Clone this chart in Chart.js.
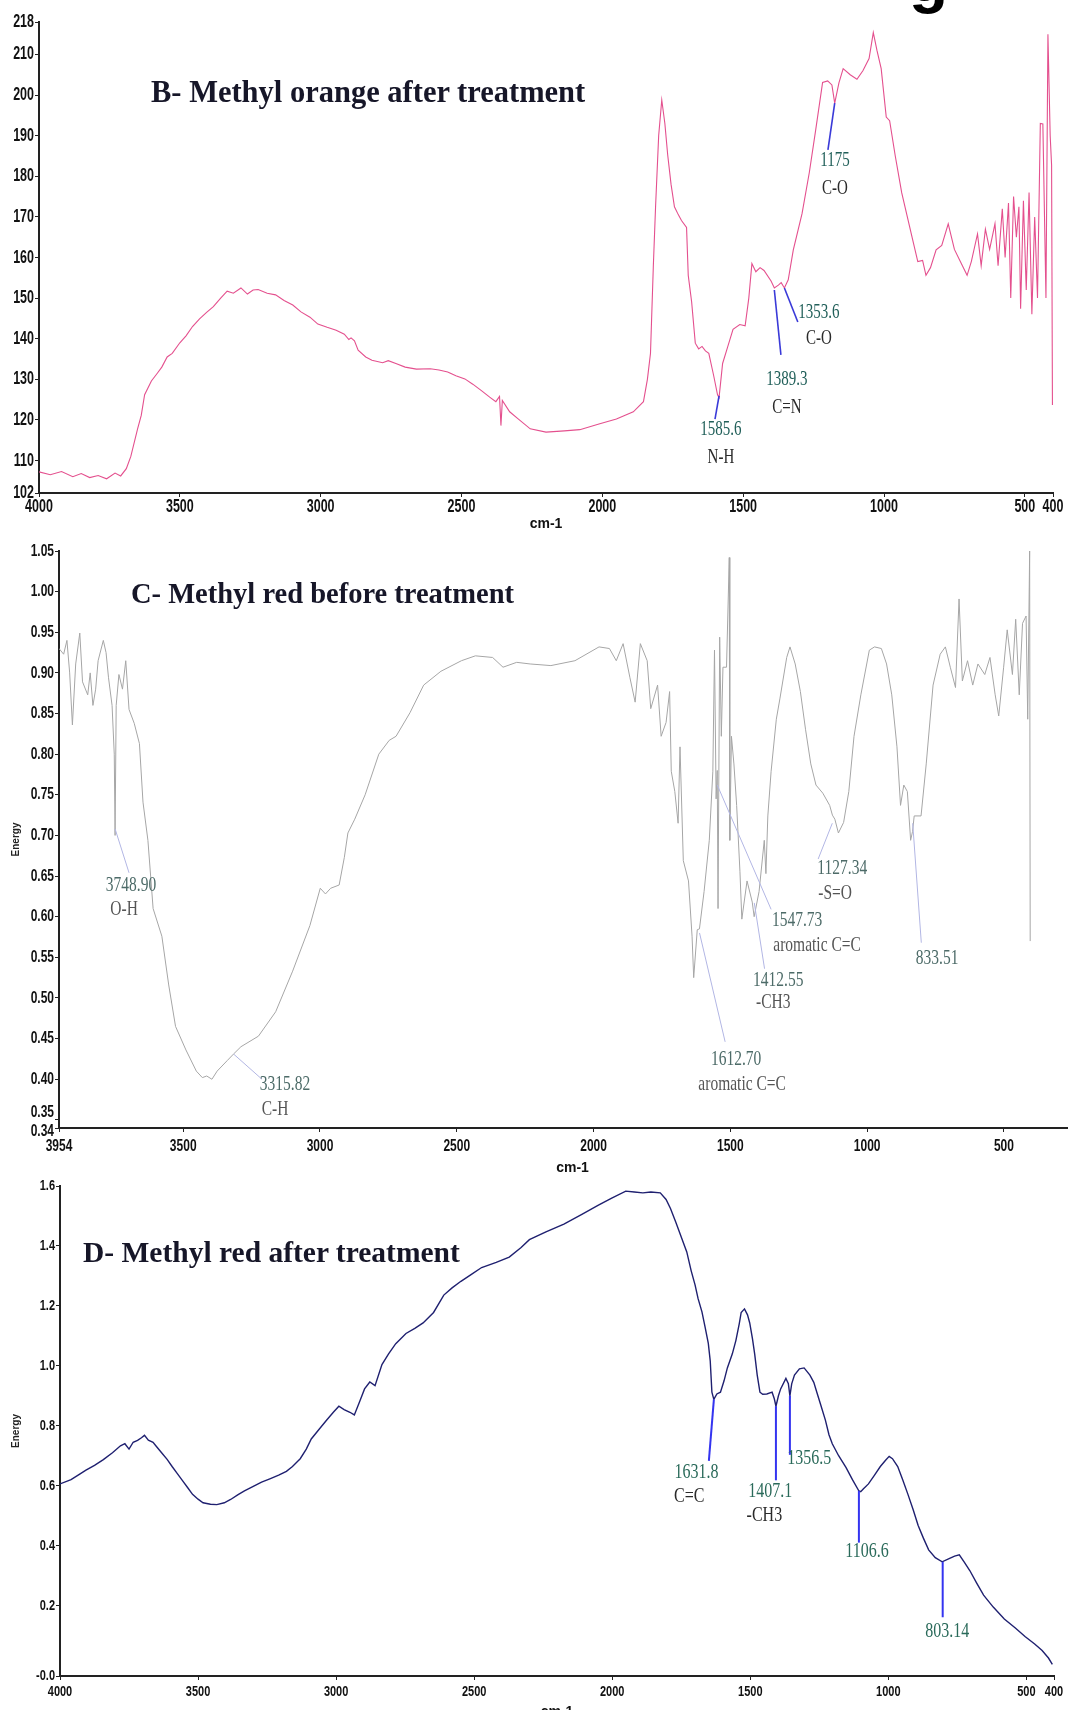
<!DOCTYPE html>
<html>
<head>
<meta charset="utf-8">
<script src="https://cdn.jsdelivr.net/npm/chart.js@4.4.0/dist/chart.umd.min.js"></script>
<style>
  html, body { margin: 0; padding: 0; background: #fff; overflow: hidden; width: 1068px; height: 1710px; }
  canvas { position: absolute; left: 0; }
  .title { position: absolute; font-family: "Liberation Serif", "Times New Roman", serif; font-weight: bold; color: #161628; white-space: nowrap; line-height: 1; }
</style>
</head>
<body>
<div class="title" style="left:909px;top:-53px;font-family:'Liberation Sans',sans-serif;font-size:64px;line-height:64px;color:#000">g</div>
<canvas id="chartB" style="top:0" width="1068" height="540"></canvas>
<canvas id="chartC" style="top:535px" width="1092" height="645"></canvas>
<canvas id="chartD" style="top:1175px" width="1068" height="560"></canvas>
<div class="title" style="left:151px;top:77px;font-size:30.5px">B- Methyl orange after treatment</div>
<div class="title" style="left:131px;top:580px;font-size:28.5px">C- Methyl red before treatment</div>
<div class="title" style="left:83px;top:1238px;font-size:29.5px">D- Methyl red after treatment</div>

<script>
// B - methyl orange after treatment (wavenumber cm-1 / signal)
const orangeAfterWn = [
  4000,3960,3920,3880,3850,3820,3790,3760,3730,3710,
  3690,3674,3650,3637,3625,3601,3580,3564,3545,3527,
  3500,3478,3455,3430,3405,3381,3355,3332,3310,3283,
  3260,3240,3222,3190,3160,3130,3099,3070,3038,3010,
  2977,2945,2916,2900,2892,2880,2867,2840,2818,2780,
  2760,2733,2700,2660,2611,2580,2549,2520,2488,2460,
  2427,2400,2378,2365,2360,2355,2329,2300,2256,2200,
  2135,2080,2012,1950,1890,1854,1840,1829,1819,1811,
  1800,1789,1778,1768,1756,1744,1730,1719,1701,1695,
  1683,1670,1658,1646,1634,1622,1605,1591,1585.6,1573,
  1555,1536,1512,1493,1480,1469,1455,1440,1426,1401,
  1389.3,1375,1365,1353.6,1340,1322,1291,1265,1243,1218,
  1200,1185,1175,1160,1145,1120,1096,1075,1053,1038,
  1025,1010,992,980,960,937,900,880,863,851,
  835,815,795,772,750,729,705,690,668,655,
  640,625,606,595,580,570,558,550,540,530,
  521,515,505,495,485,475,465,455,445,436,
  425,418,410,405,402
];
const orangeAfterVal = [
  107.2,106.5,107.3,106.0,106.8,105.8,106.3,105.5,106.9,106.2,
  108.0,111.0,117.8,121.1,126.2,129.6,131.5,133.0,135.5,136.4,
  139.0,140.7,143.0,144.9,146.5,147.9,150.0,151.7,151.2,152.5,
  151.0,152.0,152.1,151.2,150.8,149.4,148.3,146.6,145.3,143.6,
  142.8,142.1,141.1,139.8,140.2,139.5,137.2,135.5,134.7,134.1,
  134.6,133.9,133.0,132.5,132.6,132.3,131.8,130.9,130.1,128.8,
  127.1,125.6,124.5,125.8,118.6,124.8,122.0,120.3,117.8,117.0,
  117.3,117.6,119.0,120.2,122.0,124.5,130.0,136.4,157.7,172.5,
  190.0,198.8,193.0,185.3,178.0,172.5,170.5,169.1,167.4,155.6,
  149.1,138.9,137.5,138.1,137.0,136.4,131.0,126.2,125.5,133.9,
  138.0,142.3,143.5,143.2,150.0,158.5,156.5,157.5,156.8,154.2,
  152.5,153.2,153.8,152.5,154.5,161.9,170.8,181.0,191.2,203.1,
  203.5,202.5,198.0,203.0,206.5,205.0,203.9,206.0,209.0,215.4,
  211.0,206.5,194.6,193.7,185.0,175.9,164.9,159.0,159.3,155.6,
  157.5,161.9,163.0,168.3,162.0,159.0,155.6,159.0,165.8,158.0,
  167.0,162.0,168.3,158.0,172.0,160.0,173.4,150.0,175.0,165.0,
  172.5,147.4,174.0,152.0,176.0,146.0,170.0,150.0,193.0,192.9,
  150.0,215.0,190.0,182.7,123.7
];

// C - methyl red before treatment
const redBeforeWn = [
  3954,3937,3925,3915,3905,3893,3878,3868,3849,3840,
  3830,3820,3811,3792,3782,3773,3760,3752,3749,3745,
  3735,3722,3710,3698,3679,3660,3647,3629,3610,3578,
  3553,3528,3490,3452,3430,3414,3395,3376,3339,3316,
  3289,3225,3162,3100,3037,2999,2980,2961,2930,2911,
  2898,2873,2835,2785,2747,2722,2671,2621,2558,2483,
  2432,2369,2331,2281,2232,2156,2068,1980,1942,1917,
  1892,1867,1848,1829,1804,1791,1766,1753,1735,1722,
  1716,1703,1691,1684,1672,1653,1640,1634,1621,1613,
  1596,1577,1564,1558,1552,1548,1545,1539,1533,1527,
  1514,1504,1502,1496,1487,1477,1465,1458,1439,1420,
  1413,1395,1376,1370,1363,1351,1332,1319,1294,1282,
  1263,1244,1225,1206,1187,1162,1137,1127,1118,1105,
  1086,1067,1048,1023,992,973,948,929,910,891,
  878,866,853,841,834,828,803,784,759,733,
  714,696,677,664,652,633,614,595,570,551,
  532,519,501,488,469,457,444,432,419,413,
  406,404
];
const redBeforeVal = [
  0.930,0.923,0.940,0.900,0.836,0.911,0.949,0.889,0.873,0.900,
  0.860,0.880,0.915,0.940,0.925,0.894,0.860,0.800,0.700,0.860,
  0.898,0.880,0.915,0.855,0.838,0.813,0.741,0.694,0.610,0.576,
  0.516,0.465,0.436,0.410,0.402,0.404,0.400,0.410,0.423,0.431,
  0.440,0.453,0.483,0.533,0.589,0.635,0.628,0.635,0.639,0.673,
  0.703,0.720,0.750,0.800,0.817,0.822,0.851,0.885,0.902,0.915,
  0.921,0.919,0.907,0.913,0.911,0.909,0.915,0.932,0.930,0.915,
  0.936,0.894,0.864,0.936,0.915,0.856,0.885,0.822,0.839,0.877,
  0.779,0.754,0.715,0.809,0.669,0.644,0.576,0.525,0.584,0.585,
  0.631,0.694,0.779,0.928,0.745,0.780,0.610,0.944,0.822,0.907,
  0.907,1.042,0.694,0.822,0.788,0.737,0.656,0.597,0.644,0.618,
  0.600,0.631,0.694,0.653,0.724,0.779,0.843,0.868,0.919,0.932,
  0.911,0.877,0.830,0.788,0.762,0.752,0.737,0.725,0.720,0.703,
  0.716,0.754,0.822,0.873,0.928,0.932,0.930,0.911,0.873,0.809,
  0.737,0.762,0.754,0.694,0.705,0.724,0.724,0.788,0.885,0.923,
  0.932,0.907,0.882,0.991,0.890,0.915,0.885,0.911,0.898,0.919,
  0.873,0.847,0.907,0.953,0.898,0.966,0.873,0.961,0.970,0.843,
  1.050,0.570
];

// D - methyl red after treatment
const redAfterWn = [
  4000,3960,3930,3906,3875,3843,3810,3781,3765,3750,
  3735,3719,3705,3694,3680,3663,3650,3632,3612,3594,
  3575,3557,3538,3520,3500,3482,3455,3432,3405,3382,
  3355,3332,3300,3270,3240,3208,3180,3158,3130,3108,
  3090,3060,3034,3010,2990,2971,2950,2934,2915,2897,
  2878,2859,2834,2810,2784,2747,2715,2685,2647,2610,
  2580,2548,2510,2473,2420,2373,2330,2300,2240,2175,
  2110,2050,2000,1951,1920,1889,1860,1826,1805,1789,
  1770,1751,1730,1714,1700,1689,1675,1664,1652,1645,
  1639,1632,1621,1608,1595,1583,1565,1552,1540,1533,
  1521,1510,1502,1492,1484,1475,1465,1455,1440,1421,
  1413,1407,1398,1390,1371,1362,1356.5,1350,1340,1322,
  1305,1284,1270,1259,1245,1228,1215,1203,1180,1153,
  1130,1107,1100,1090,1072,1050,1029,1010,997,985,
  966,948,929,910,892,873,854,830,805,780,
  760,743,725,705,680,655,620,580,540,505,
  470,443,420,406
];
const redAfterVal = [
  0.606,0.620,0.638,0.652,0.668,0.687,0.710,0.733,0.740,0.722,
  0.745,0.751,0.760,0.768,0.752,0.745,0.730,0.710,0.688,0.664,
  0.640,0.618,0.594,0.571,0.555,0.543,0.538,0.537,0.543,0.554,
  0.570,0.583,0.598,0.612,0.623,0.635,0.648,0.664,0.690,0.722,
  0.756,0.790,0.819,0.845,0.865,0.854,0.845,0.836,0.880,0.923,
  0.946,0.934,1.004,1.040,1.074,1.108,1.125,1.143,1.178,1.236,
  1.260,1.282,1.305,1.328,1.345,1.363,1.395,1.421,1.447,1.473,
  1.505,1.536,1.560,1.583,1.580,1.577,1.580,1.577,1.555,1.525,
  1.480,1.432,1.380,1.317,1.270,1.224,1.180,1.131,1.075,1.016,
  0.912,0.888,0.906,0.912,0.950,0.993,1.040,1.085,1.140,1.178,
  1.190,1.170,1.143,1.090,1.039,0.970,0.912,0.905,0.906,0.912,
  0.890,0.865,0.900,0.923,0.958,0.940,0.900,0.940,0.969,0.990,
  0.993,0.969,0.945,0.912,0.870,0.819,0.770,0.740,0.700,0.660,
  0.620,0.583,0.580,0.590,0.606,0.635,0.664,0.685,0.698,0.690,
  0.664,0.620,0.571,0.520,0.467,0.425,0.386,0.360,0.346,0.357,
  0.365,0.369,0.345,0.317,0.275,0.235,0.195,0.155,0.125,0.097,
  0.072,0.050,0.025,0.004
];

// tick values
const ticksXB = [4000, 3500, 3000, 2500, 2000, 1500, 1000, 500, 400];
const ticksYB = [102, 110, 120, 130, 140, 150, 160, 170, 180, 190, 200, 210, 218];
const ticksXC = [3954, 3500, 3000, 2500, 2000, 1500, 1000, 500, 200];
const ticksYC = [0.34, 0.35, 0.40, 0.45, 0.50, 0.55, 0.60, 0.65, 0.70, 0.75, 0.80, 0.85, 0.90, 0.95, 1.00, 1.05];
const ticksXD = [4000, 3500, 3000, 2500, 2000, 1500, 1000, 500, 400];
const ticksYD = [-0.035, 0.2, 0.4, 0.6, 0.8, 1.0, 1.2, 1.4, 1.6];

// peak labels: start on the curve (wn, at), leader end (to), text lines [text, wn, value]
const peaksB = [
  { wn: 1175, at: 198, to: [1199, 186.5], labels: [['1175', 1174, 184], ['C-O', 1174, 177.1]] },
  { wn: 1353.6, at: 152.5, to: [1306, 144.1], labels: [['1353.6', 1231, 146.6], ['C-O', 1231, 140.2]] },
  { wn: 1389.3, at: 152, to: [1366, 136], labels: [['1389.3', 1345, 130.1], ['C=N', 1345, 123.2]] },
  { wn: 1585.6, at: 125.9, to: [1600, 120.2], labels: [['1585.6', 1579, 117.8], ['N-H', 1579, 110.9]] }
];
const peaksC = [
  { wn: 3748.9, at: 0.708, to: [3698, 0.654], labels: [['3748.90', 3691, 0.639], ['O-H', 3716, 0.609]] },
  { wn: 3315.82, at: 0.431, to: [3212, 0.400], labels: [['3315.82', 3128, 0.393], ['C-H', 3164, 0.363]] },
  { wn: 1612.7, at: 0.58, to: [1519, 0.446], labels: [['1612.70', 1479, 0.424], ['aromatic C=C', 1457, 0.393]] },
  { wn: 1547.73, at: 0.762, to: [1351, 0.609], labels: [['1547.73', 1256, 0.595], ['aromatic C=C', 1183, 0.565]] },
  { wn: 1412.55, at: 0.617, to: [1375, 0.536], labels: [['1412.55', 1325, 0.522], ['-CH3', 1343, 0.495]] },
  { wn: 1127.34, at: 0.715, to: [1179, 0.671], labels: [['1127.34', 1091, 0.659], ['-S=O', 1117, 0.629]] },
  { wn: 833.51, at: 0.715, to: [802, 0.568], labels: [['833.51', 744, 0.548]] }
];
const peaksD = [
  { wn: 1631.8, at: 0.888, to: [1650, 0.683], labels: [['1631.8', 1695, 0.645], ['C=C', 1721, 0.565]] },
  { wn: 1407.1, at: 0.865, to: [1407.1, 0.618], labels: [['1407.1', 1428, 0.581], ['-CH3', 1449, 0.501]] },
  { wn: 1356.5, at: 0.9, to: [1356.5, 0.703], labels: [['1356.5', 1286, 0.692]] },
  { wn: 1106.6, at: 0.583, to: [1106.6, 0.41], labels: [['1106.6', 1077, 0.38]] },
  { wn: 803.14, at: 0.346, to: [803.14, 0.161], labels: [['803.14', 787, 0.114]] }
];

Chart.defaults.font.family = "'Liberation Sans', Arial, sans-serif";

// leader lines and peak text, placed through the chart scales
function peakPlugin(cfg) {
  return {
    id: 'peakNotes',
    afterDatasetsDraw(chart) {
      const { ctx, scales: { x, y } } = chart;
      ctx.save();
      cfg.peaks.forEach(p => {
        ctx.strokeStyle = cfg.noteLine;
        ctx.lineWidth = cfg.noteWidth;
        ctx.beginPath();
        ctx.moveTo(x.getPixelForValue(p.wn), y.getPixelForValue(p.at));
        ctx.lineTo(x.getPixelForValue(p.to[0]), y.getPixelForValue(p.to[1]));
        ctx.stroke();
        p.labels.forEach((l, k) => {
          ctx.save();
          ctx.translate(x.getPixelForValue(l[1]), y.getPixelForValue(l[2]));
          ctx.scale(1, cfg.noteStretch);
          ctx.font = cfg.noteFont;
          ctx.textAlign = 'center';
          ctx.textBaseline = 'middle';
          ctx.fillStyle = k === 0 ? cfg.numColor : cfg.textColor;
          ctx.fillText(l[0], 0, 0);
          ctx.restore();
        });
      });
      ctx.restore();
    }
  };
}

// tall, narrow tick labels like the instrument print-out
function tickPlugin(cfg) {
  return {
    id: 'tallTicks',
    afterDraw(chart) {
      const { ctx, scales: { x, y } } = chart;
      const put = (txt, px, py, align) => {
        ctx.save();
        ctx.translate(px, py);
        ctx.scale(1, cfg.tickStretch);
        ctx.textAlign = align;
        ctx.fillText(txt, 0, 0);
        ctx.restore();
      };
      ctx.save();
      ctx.fillStyle = '#111';
      ctx.font = cfg.tickFont;
      ctx.textBaseline = 'middle';
      x.ticks.forEach(t => put(String(t.value), x.getPixelForValue(t.value), x.top + cfg.xGap, 'center'));
      y.ticks.forEach(t => {
        // the two crowded bottom labels are pushed apart, as on the print-out
        const nudge = (cfg.yNudge && cfg.yNudge[t.value]) || 0;
        put(cfg.fmtY(t.value), y.right - cfg.yGap, y.getPixelForValue(t.value) + nudge, 'right');
      });
      ctx.restore();
    }
  };
}

function makeChart(id, cfg) {
  return new Chart(document.getElementById(id), {
    type: 'line',
    data: {
      datasets: [{
        data: cfg.wn.map((w, i) => ({ x: w, y: cfg.val[i] })),
        borderColor: cfg.color,
        borderWidth: cfg.lineWidth,
        pointRadius: 0,
        tension: 0,
        fill: false
      }]
    },
    options: {
      responsive: false,
      animation: false,
      events: [],
      layout: { padding: { top: cfg.padTop, right: cfg.padRight, left: 0, bottom: 0 } },
      plugins: { legend: { display: false }, tooltip: { enabled: false } },
      scales: {
        x: {
          type: 'linear',
          reverse: true,
          min: cfg.xMin,
          max: cfg.xMax,
          afterBuildTicks: s => { s.ticks = cfg.xTicks.map(v => ({ value: v })); },
          afterFit: s => { s.height = cfg.xHeight; s.paddingLeft = 0; s.paddingRight = 0; },
          ticks: { display: false },
          grid: { drawOnChartArea: false, drawTicks: true, tickLength: 4, color: '#222' },
          border: { color: '#222', width: 2 },
          title: {
            display: true, text: 'cm-1', color: '#111',
            font: { size: 14, weight: 'bold' },
            padding: { top: 0, bottom: cfg.xTitlePad }
          }
        },
        y: {
          min: cfg.yMin,
          max: cfg.yMax,
          afterBuildTicks: s => { s.ticks = cfg.yTicks.map(v => ({ value: v })); },
          afterFit: s => { s.width = cfg.yWidth; s.paddingTop = 0; s.paddingBottom = 0; },
          ticks: { display: false },
          grid: { drawOnChartArea: false, drawTicks: true, tickLength: 4, color: '#222' },
          border: { color: '#222', width: 2 },
          title: {
            display: !!cfg.yTitle, text: cfg.yTitle || '', color: '#222',
            font: { size: 10, weight: 'bold' },
            padding: { top: 10, bottom: 0 }
          }
        }
      }
    },
    plugins: [peakPlugin(cfg), tickPlugin(cfg)]
  });
}

makeChart('chartB', {
  wn: orangeAfterWn, val: orangeAfterVal, color: '#e4508e', lineWidth: 1.1,
  xMin: 400, xMax: 4000, yMin: 102, yMax: 218, xTicks: ticksXB, yTicks: ticksYB,
  padTop: 22, padRight: 15, xHeight: 47, yWidth: 39, xTitlePad: 7,
  tickFont: "bold 12.5px 'Liberation Sans', Arial, sans-serif", tickStretch: 1.45, xGap: 13.5, yGap: 5,
  fmtY: v => String(v),
  peaks: peaksB, noteLine: '#3a3ad8', noteWidth: 1.6,
  noteFont: "15px 'Liberation Serif', 'Times New Roman', serif", noteStretch: 1.45,
  numColor: '#22605a', textColor: '#2a2a2a'
});

makeChart('chartC', {
  wn: redBeforeWn, val: redBeforeVal, color: '#a6a6a6', lineWidth: 1,
  xMin: 200, xMax: 3954, yMin: 0.34, yMax: 1.05, xTicks: ticksXC, yTicks: ticksYC,
  padTop: 16, padRight: 6, xHeight: 52, yWidth: 59, xTitlePad: 3, yTitle: 'Energy',
  tickFont: "bold 12px 'Liberation Sans', Arial, sans-serif", tickStretch: 1.4, xGap: 18.5, yGap: 5,
  fmtY: v => v.toFixed(2), yNudge: { 0.35: -8, 0.34: 3 },
  peaks: peaksC, noteLine: '#b2b6e4', noteWidth: 1,
  noteFont: "15.5px 'Liberation Serif', 'Times New Roman', serif", noteStretch: 1.35,
  numColor: '#4d6b68', textColor: '#555555'
});

makeChart('chartD', {
  wn: redAfterWn, val: redAfterVal, color: '#1f2070', lineWidth: 1.4,
  xMin: 400, xMax: 4000, yMin: -0.035, yMax: 1.6, xTicks: ticksXD, yTicks: ticksYD,
  padTop: 11, padRight: 14, xHeight: 59, yWidth: 60, xTitlePad: 14, yTitle: 'Energy',
  tickFont: "bold 11px 'Liberation Sans', Arial, sans-serif", tickStretch: 1.35, xGap: 16, yGap: 5,
  fmtY: v => (v < 0 ? '-0.0' : v.toFixed(1)),
  peaks: peaksD, noteLine: '#3434f0', noteWidth: 2,
  noteFont: "16px 'Liberation Serif', 'Times New Roman', serif", noteStretch: 1.35,
  numColor: '#2a6a5a', textColor: '#2a2a2a'
});
</script>
</body>
</html>
